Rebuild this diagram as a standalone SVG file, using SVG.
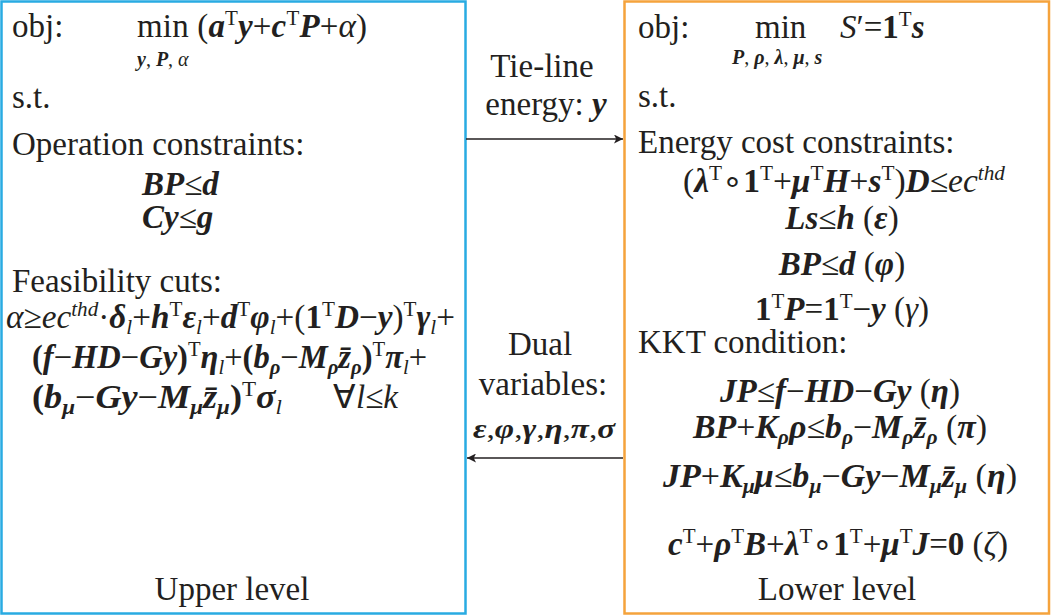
<svg xmlns="http://www.w3.org/2000/svg" width="1052" height="616" viewBox="0 0 1052 616">
<style>
text{font-family:"Liberation Serif","Times New Roman",serif;font-size:33px;fill:#231f20}
.b{font-weight:bold;font-style:italic}
.i{font-style:italic}
.ub{font-weight:bold}
.sp{font-size:21px;baseline-shift:12px;font-style:normal}
.si{font-size:21px;baseline-shift:12px;font-style:italic}
.sb{font-size:21px;baseline-shift:-6px;font-style:italic}
.sbb{font-size:21px;baseline-shift:-6px;font-style:italic;font-weight:bold}
.lim{font-size:20px}
.c{text-anchor:middle}
.sm{font-size:27px}
</style>
<defs>
<marker id="ah" viewBox="0 0 10 10" refX="10" refY="5" markerWidth="11" markerHeight="9" markerUnits="userSpaceOnUse" orient="auto"><path d="M0,0L10,5L0,10L2.5,5Z" fill="#231f20"/></marker>
</defs>
<rect width="1052" height="616" fill="#fff"/>
<g id="upper">
<rect x="1.5" y="1.5" width="464" height="612" fill="none" stroke="#29abe2" stroke-width="2.5"/>
<text x="12" y="37">obj:</text>
<text x="137" y="37" textLength="230">min (<tspan class="b">a</tspan><tspan class="sp">T</tspan><tspan class="b">y</tspan>+<tspan class="b">c</tspan><tspan class="sp">T</tspan><tspan class="b">P</tspan>+<tspan class="i">α</tspan>)</text>
<text class="lim" x="137" y="66"><tspan class="b">y</tspan>, <tspan class="b">P</tspan>, <tspan class="i">α</tspan></text>
<text x="12" y="108">s.t.</text>
<text x="12" y="155">Operation constraints:</text>
<text x="142" y="195"><tspan class="b">BP</tspan>≤<tspan class="b">d</tspan></text>
<text x="142" y="228"><tspan class="b">Cy</tspan>≤<tspan class="b">g</tspan></text>
<text x="12" y="292">Feasibility cuts:</text>
<text x="6" y="328" textLength="449" lengthAdjust="spacingAndGlyphs"><tspan class="i">α</tspan>≥<tspan class="i">ec</tspan><tspan class="si">thd</tspan>·<tspan class="b">δ</tspan><tspan class="sb">l</tspan>+<tspan class="b">h</tspan><tspan class="sp">T</tspan><tspan class="b">ε</tspan><tspan class="sb">l</tspan>+<tspan class="b">d</tspan><tspan class="sp">T</tspan><tspan class="b">φ</tspan><tspan class="sb">l</tspan>+(<tspan class="ub">1</tspan><tspan class="sp">T</tspan><tspan class="b">D</tspan>−<tspan class="b">y</tspan>)<tspan class="sp">T</tspan><tspan class="b">γ</tspan><tspan class="sb">l</tspan>+</text>
<text x="32" y="368" textLength="395" lengthAdjust="spacingAndGlyphs"><tspan class="ub">(</tspan><tspan class="b">f</tspan>−<tspan class="b">HD</tspan>−<tspan class="b">Gy</tspan><tspan class="ub">)</tspan><tspan class="sp">T</tspan><tspan class="b">η</tspan><tspan class="sb">l</tspan>+<tspan class="ub">(</tspan><tspan class="b">b</tspan><tspan class="sbb">ρ</tspan>−<tspan class="b">M</tspan><tspan class="sbb">ρ</tspan><tspan class="b">z̄</tspan><tspan class="sbb">ρ</tspan><tspan class="ub">)</tspan><tspan class="sp">T</tspan><tspan class="b">π</tspan><tspan class="sb">l</tspan>+</text>
<text x="32" y="408" textLength="250" lengthAdjust="spacingAndGlyphs"><tspan class="ub">(</tspan><tspan class="b">b</tspan><tspan class="sbb">μ</tspan>−<tspan class="b">Gy</tspan>−<tspan class="b">M</tspan><tspan class="sbb">μ</tspan><tspan class="b">z̄</tspan><tspan class="sbb">μ</tspan><tspan class="ub">)</tspan><tspan class="sp">T</tspan><tspan class="b">σ</tspan><tspan class="sb">l</tspan></text>
<text x="333" y="408">∀<tspan class="i">l</tspan>≤<tspan class="i">k</tspan></text>
<text class="c" x="232" y="600">Upper level</text>
</g>
<g id="lower">
<rect x="624.5" y="1.5" width="424.5" height="612" fill="none" stroke="#f5a33c" stroke-width="2.5"/>
<text x="638" y="38">obj:</text>
<text x="755" y="38">min</text>
<text x="840" y="38"><tspan class="i">S</tspan>′=<tspan class="ub">1</tspan><tspan class="sp">T</tspan><tspan class="b">s</tspan></text>
<text class="lim" x="732" y="64"><tspan class="b">P</tspan>, <tspan class="b">ρ</tspan>, <tspan class="b">λ</tspan>, <tspan class="b">μ</tspan>, <tspan class="b">s</tspan></text>
<text x="638" y="107">s.t.</text>
<text x="638" y="153">Energy cost constraints:</text>
<text class="c" x="844" y="192" textLength="322" lengthAdjust="spacingAndGlyphs">(<tspan class="b">λ</tspan><tspan class="sp">T</tspan>∘<tspan class="ub">1</tspan><tspan class="sp">T</tspan>+<tspan class="b">μ</tspan><tspan class="sp">T</tspan><tspan class="b">H</tspan>+<tspan class="b">s</tspan><tspan class="sp">T</tspan>)<tspan class="b">D</tspan>≤<tspan class="i">ec</tspan><tspan class="si">thd</tspan></text>
<text class="c" x="842" y="229"><tspan class="b">Ls</tspan>≤<tspan class="b">h</tspan> (<tspan class="b">ε</tspan>)</text>
<text class="c" x="842" y="275"><tspan class="b">BP</tspan>≤<tspan class="b">d</tspan> (<tspan class="b">φ</tspan>)</text>
<text class="c" x="842" y="320"><tspan class="ub">1</tspan><tspan class="sp">T</tspan><tspan class="b">P</tspan>=<tspan class="ub">1</tspan><tspan class="sp">T</tspan>−<tspan class="b">y</tspan> (<tspan class="i">γ</tspan>)</text>
<text x="638" y="353">KKT condition:</text>
<text class="c" x="840" y="402" textLength="240" lengthAdjust="spacingAndGlyphs"><tspan class="b">JP</tspan>≤<tspan class="b">f</tspan>−<tspan class="b">HD</tspan>−<tspan class="b">Gy</tspan> (<tspan class="b">η</tspan>)</text>
<text class="c" x="840" y="438" textLength="294" lengthAdjust="spacingAndGlyphs"><tspan class="b">BP</tspan>+<tspan class="b">K</tspan><tspan class="sbb">ρ</tspan><tspan class="b">ρ</tspan>≤<tspan class="b">b</tspan><tspan class="sbb">ρ</tspan>−<tspan class="b">M</tspan><tspan class="sbb">ρ</tspan><tspan class="b">z̄</tspan><tspan class="sbb">ρ</tspan> (<tspan class="b">π</tspan>)</text>
<text class="c" x="840" y="487" textLength="354" lengthAdjust="spacingAndGlyphs"><tspan class="b">JP</tspan>+<tspan class="b">K</tspan><tspan class="sbb">μ</tspan><tspan class="b">μ</tspan>≤<tspan class="b">b</tspan><tspan class="sbb">μ</tspan>−<tspan class="b">Gy</tspan>−<tspan class="b">M</tspan><tspan class="sbb">μ</tspan><tspan class="b">z̄</tspan><tspan class="sbb">μ</tspan> (<tspan class="b">η</tspan>)</text>
<text class="c" x="838" y="555" textLength="340" lengthAdjust="spacingAndGlyphs"><tspan class="b">c</tspan><tspan class="sp">T</tspan>+<tspan class="b">ρ</tspan><tspan class="sp">T</tspan><tspan class="b">B</tspan>+<tspan class="b">λ</tspan><tspan class="sp">T</tspan>∘<tspan class="ub">1</tspan><tspan class="sp">T</tspan>+<tspan class="b">μ</tspan><tspan class="sp">T</tspan><tspan class="b">J</tspan>=<tspan class="ub">0</tspan> (<tspan class="i">ζ</tspan>)</text>
<text class="c" x="837" y="600">Lower level</text>
</g>
<g id="connectors">
<line x1="466" y1="139" x2="623" y2="139" stroke="#231f20" stroke-width="1.6" marker-end="url(#ah)"/>
<line x1="623" y1="458" x2="467" y2="458" stroke="#231f20" stroke-width="1.6" marker-end="url(#ah)"/>
</g>
<g id="labels">
<text class="c" x="542" y="77">Tie-line</text>
<text class="c" x="546" y="115">energy: <tspan class="b">y</tspan></text>
<text class="c" x="540" y="355">Dual</text>
<text class="c" x="543" y="395">variables:</text>
<text class="c sm" x="544" y="438" textLength="142" lengthAdjust="spacingAndGlyphs"><tspan class="b">ε</tspan>,<tspan class="b">φ</tspan>,<tspan class="b">γ</tspan>,<tspan class="b">η</tspan>,<tspan class="b">π</tspan>,<tspan class="b">σ</tspan></text>
</g>
</svg>
